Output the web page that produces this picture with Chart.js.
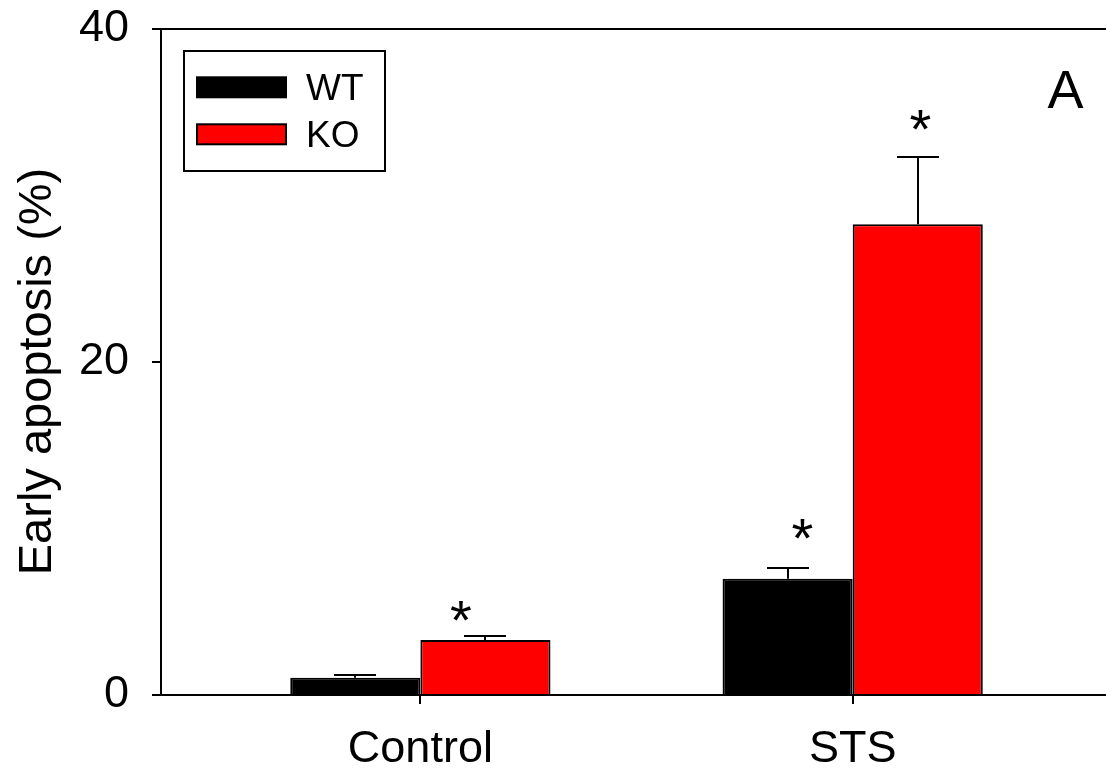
<!DOCTYPE html>
<html>
<head>
<meta charset="utf-8">
<title>Early apoptosis</title>
<script src="https://cdn.jsdelivr.net/npm/chart.js@4/dist/chart.umd.min.js"></script>
<style>
  html, body { margin: 0; padding: 0; background: #fff; }
  canvas { display: block; }
</style>
</head>
<body>
<canvas id="chart" width="1106" height="775"></canvas>
<script>
// ---- data ----
const categories = ['Control', 'STS'];
const seriesNames = ['WT', 'KO'];
const seriesColors = ['#000000', '#ff0000'];
const wtMean = [1.04, 6.98];
const wtSem = [0.18, 0.67];
const koMean = [3.30, 28.27];
const koSem = [0.24, 4.03];
const yTicks = [0, 20, 40];
const yTitle = 'Early apoptosis (%)';
const panelLabel = 'A';
// significance marks ('*'), given in axis units
const starX = [1.093, 1.883, 2.156];
const starY = [5.04, 9.97, 34.56];

const FONT = '"Liberation Sans", Arial, Helvetica, sans-serif';
const means = [wtMean, koMean];
const sems = [wtSem, koSem];

// centre a single glyph string on (cx, cy) using its ink bounds
function drawCentered(ctx, text, cx, cy) {
  ctx.textAlign = 'left';
  ctx.textBaseline = 'alphabetic';
  const m = ctx.measureText(text);
  const x = cx - (m.actualBoundingBoxRight - m.actualBoundingBoxLeft) / 2;
  const y = cy + (m.actualBoundingBoxAscent - m.actualBoundingBoxDescent) / 2;
  ctx.fillText(text, x, y);
}

const decorations = {
  id: 'decorations',
  afterDraw(chart) {
    const { ctx, chartArea, scales: { x, y } } = chart;
    ctx.save();
    ctx.strokeStyle = '#000';
    ctx.fillStyle = '#000';
    ctx.lineWidth = 2;

    // upper error bars
    means.forEach((vals, di) => {
      const meta = chart.getDatasetMeta(di);
      meta.data.forEach((bar, i) => {
        const cx = Math.round(bar.x);
        const yBar = y.getPixelForValue(vals[i]);
        const yTop = Math.round(y.getPixelForValue(vals[i] + sems[di][i]));
        ctx.beginPath();
        ctx.moveTo(cx, yBar);
        ctx.lineTo(cx, yTop);
        ctx.moveTo(cx - 21, yTop);
        ctx.lineTo(cx + 21, yTop);
        ctx.stroke();
      });
    });

    // frame line along the top of the plot
    ctx.beginPath();
    ctx.moveTo(chartArea.left, Math.round(chartArea.top));
    ctx.lineTo(chartArea.right, Math.round(chartArea.top));
    ctx.stroke();

    // significance asterisks
    ctx.font = '56px ' + FONT;
    starX.forEach((sx, i) => {
      drawCentered(ctx, '*', x.getPixelForValue(sx), y.getPixelForValue(starY[i]));
    });

    // panel letter
    ctx.font = '54px ' + FONT;
    drawCentered(ctx, panelLabel, 1065.5, 89.5);

    // y axis title
    ctx.save();
    ctx.translate(51, 371.5);
    ctx.rotate(-Math.PI / 2);
    ctx.font = '47px ' + FONT;
    ctx.textAlign = 'center';
    ctx.textBaseline = 'alphabetic';
    ctx.fillText(yTitle, 0, 0);
    ctx.restore();

    // legend box
    ctx.strokeRect(184, 51, 201, 120);
    const rows = [87.3, 134.3];
    ctx.font = '37px ' + FONT;
    ctx.textAlign = 'left';
    ctx.textBaseline = 'middle';
    seriesNames.forEach((name, i) => {
      ctx.fillStyle = seriesColors[i];
      ctx.fillRect(197, rows[i] - 10, 89, 20);
      ctx.strokeStyle = '#000';
      ctx.strokeRect(197, rows[i] - 10, 89, 20);
      ctx.fillStyle = '#000';
      ctx.fillText(name, 306, rows[i] + 2);
    });
    ctx.restore();
  }
};

const axisGrid = { drawOnChartArea: false, drawTicks: true, tickLength: 9, color: '#000', lineWidth: 2, offset: false };
const axisBorder = { display: true, color: '#000', width: 2 };

new Chart(document.getElementById('chart'), {
  type: 'bar',
  data: {
    datasets: seriesNames.map((name, di) => ({
      label: name,
      data: means[di].map((v, i) => ({ x: i + 1, y: v })),
      backgroundColor: seriesColors[di],
      borderColor: '#000',
      borderWidth: 2,
      barPercentage: 1,
      categoryPercentage: 0.602
    }))
  },
  options: {
    responsive: false,
    animation: false,
    events: [],
    layout: { padding: { top: 29, right: 0, bottom: 0, left: 0 } },
    plugins: { legend: { display: false }, tooltip: { enabled: false } },
    scales: {
      x: {
        type: 'linear',
        min: 0.4,
        max: 2.586,
        offset: false,
        z: 1,
        afterBuildTicks: s => { s.ticks = categories.map((_, i) => ({ value: i + 1 })); },
        afterFit: s => { s.height = 80; s.paddingLeft = 0; s.paddingRight = 0; },
        grid: axisGrid,
        border: axisBorder,
        ticks: {
          callback: v => categories[v - 1] ?? '',
          font: { family: FONT, size: 45 },
          color: '#000',
          padding: 19,
          maxRotation: 0,
          autoSkip: false
        }
      },
      y: {
        min: 0,
        max: 40,
        z: 1,
        afterBuildTicks: s => { s.ticks = yTicks.map(v => ({ value: v })); },
        afterFit: s => { s.width = 161; s.paddingTop = 0; s.paddingBottom = 0; },
        grid: axisGrid,
        border: axisBorder,
        ticks: {
          font: { family: FONT, size: 45 },
          color: '#000',
          padding: 23
        }
      }
    }
  },
  plugins: [decorations]
});
</script>
</body>
</html>
